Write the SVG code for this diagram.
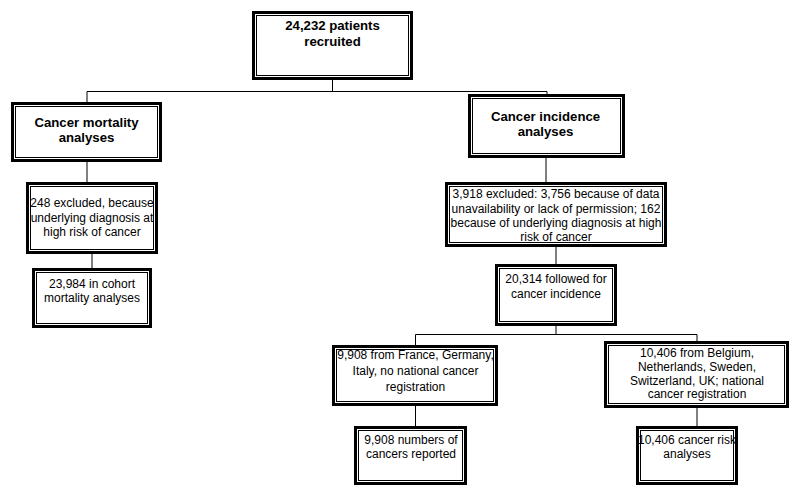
<svg xmlns="http://www.w3.org/2000/svg" width="800" height="497" viewBox="0 0 800 497">
<style>
.o{fill:#fff;stroke:#000;stroke-width:3}
.i{fill:none;stroke:#000;stroke-width:1}
.c{fill:none;stroke:#000;stroke-width:1}
text{font-family:"Liberation Sans",Arial,sans-serif;font-size:12px;fill:#000;text-anchor:middle}
.b{font-weight:bold;font-size:13.2px}
</style>
<rect width="800" height="497" fill="#fff"/>
<g id="connectors">
<path class="c" d="M332.5 80V91.5M87 91.5H547M87 91.5V102M547 91.5V94"/>
<path class="c" d="M87 162V182M92 254V268"/>
<path class="c" d="M546 158V182M556 247V264"/>
<path class="c" d="M556 326V334.5M415.5 334.5H697M415.5 334.5V345M697 334.5V341"/>
<path class="c" d="M415.5 406V426M697 408V426"/>
</g>
<g id="n1">
<rect class="o" x="253.5" y="12.5" width="158" height="66"/>
<rect class="i" x="256.5" y="15.5" width="152" height="60"/>
<text class="b" x="332.5" y="30">24,232 patients</text>
<text class="b" x="332.5" y="46">recruited</text>
</g>
<g id="n2">
<rect class="o" x="12.5" y="103.5" width="148" height="57"/>
<rect class="i" x="15.5" y="106.5" width="142" height="51"/>
<text class="b" x="86.5" y="127">Cancer mortality</text>
<text class="b" x="86.5" y="142">analyses</text>
</g>
<g id="n3">
<rect class="o" x="27.5" y="183.5" width="129" height="69"/>
<rect class="i" x="30.5" y="186.5" width="123" height="63"/>
<text x="92" y="207.3">248 excluded, because</text>
<text x="92" y="221.5">underlying diagnosis at</text>
<text x="92" y="235.5">high risk of cancer</text>
</g>
<g id="n4">
<rect class="o" x="33.5" y="269.5" width="117" height="57"/>
<rect class="i" x="36.5" y="272.5" width="111" height="51"/>
<text x="92" y="288">23,984 in cohort</text>
<text x="92" y="302">mortality analyses</text>
</g>
<g id="n5">
<rect class="o" x="469.5" y="95.5" width="154" height="61"/>
<rect class="i" x="472.5" y="98.5" width="148" height="55"/>
<text class="b" x="545.5" y="121">Cancer incidence</text>
<text class="b" x="545.5" y="136">analyses</text>
</g>
<g id="n6">
<rect class="o" x="446.5" y="183.5" width="219" height="62"/>
<rect class="i" x="449.5" y="186.5" width="213" height="56"/>
<text x="556" y="198.3">3,918 excluded: 3,756 because of data</text>
<text x="556" y="212.7">unavailability or lack of permission; 162</text>
<text x="556" y="227">because of underlying diagnosis at high</text>
<text x="556" y="241">risk of cancer</text>
</g>
<g id="n7">
<rect class="o" x="496.5" y="265.5" width="119" height="59"/>
<rect class="i" x="499.5" y="268.5" width="113" height="53"/>
<text x="556" y="283.3">20,314 followed for</text>
<text x="556" y="298.3">cancer incidence</text>
</g>
<g id="n8">
<rect class="o" x="333.5" y="346.5" width="163" height="58"/>
<rect class="i" x="336.5" y="349.5" width="157" height="52"/>
<text x="415.5" y="359">9,908 from France, Germany,</text>
<text x="415.5" y="375">Italy, no national cancer</text>
<text x="415.5" y="391">registration</text>
</g>
<g id="n9">
<rect class="o" x="605.5" y="342.5" width="182" height="64"/>
<rect class="i" x="608.5" y="345.5" width="176" height="58"/>
<text x="697" y="357">10,406 from Belgium,</text>
<text x="697" y="371">Netherlands, Sweden,</text>
<text x="697" y="384.5">Switzerland, UK; national</text>
<text x="697" y="398">cancer registration</text>
</g>
<g id="n10">
<rect class="o" x="355.5" y="427.5" width="110" height="56"/>
<rect class="i" x="358.5" y="430.5" width="104" height="50"/>
<text x="411" y="444">9,908 numbers of</text>
<text x="411" y="458.3">cancers reported</text>
</g>
<g id="n11">
<rect class="o" x="637.5" y="427.5" width="99" height="56"/>
<rect class="i" x="640.5" y="430.5" width="93" height="50"/>
<text x="687" y="444">10,406 cancer risk</text>
<text x="687" y="458.3">analyses</text>
</g>
</svg>
